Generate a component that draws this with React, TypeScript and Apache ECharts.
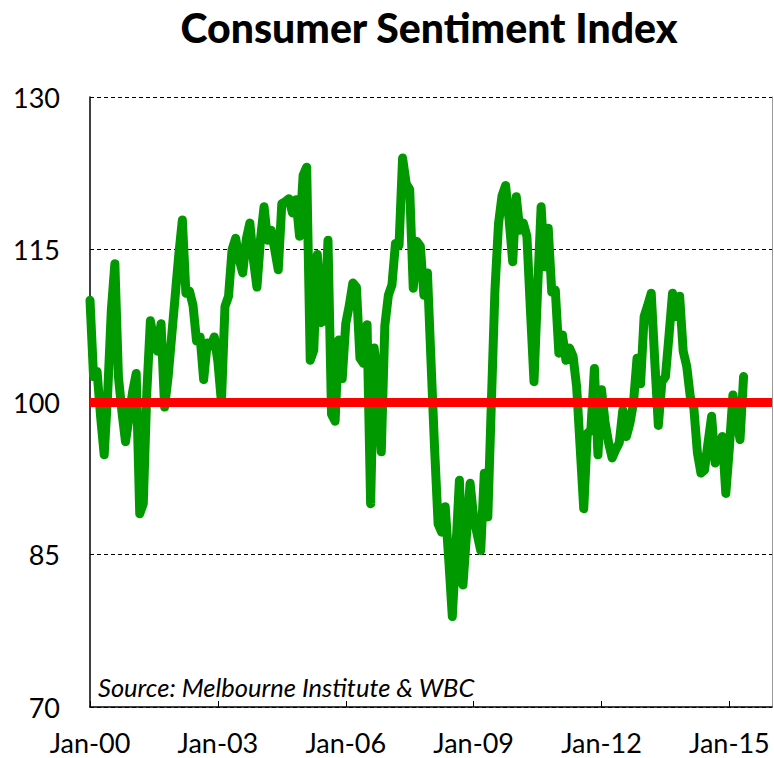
import React, { useEffect, useRef } from "react";
import * as echarts from "echarts";

const TITLE = "Consumer Sentiment Index";
const SOURCE = "Source: Melbourne Institute & WBC";
const START_YEAR = 2000;
const MONTHS = ["Jan", "Feb", "Mar", "Apr", "May", "Jun", "Jul", "Aug", "Sep", "Oct", "Nov", "Dec"];
const MONTH_COUNT = 193; // Jan-00 .. Jan-16 (axis end)
const LABEL_STEP = 36; // a label every three years
const Y_TICKS = [70, 85, 100, 115, 130];
const BENCHMARK = 100;

// Westpac-Melbourne Institute consumer sentiment, monthly from Jan-2000
const sentiment = [
  110, 102.5, 103, 98.5, 94.8, 101, 109, 113.6, 102.5, 99, 96.1, 98.5,
  101, 102.8, 89, 90, 101, 108, 106, 105, 107.7, 99.5, 102.5, 106.5,
  110.5, 114.5, 117.9, 110.7, 110.9, 109.5, 106, 106.4, 102.2, 105.8, 105.5, 106.4,
  104, 100, 109.4, 110.4, 115, 116.1, 114, 112.7, 116, 117.6, 114, 111.3,
  116, 119.2, 115.9, 116.9, 115, 113, 119.5, 119.7, 120, 118.6, 119.9, 116.3,
  122.3, 123.1, 104.1, 105.1, 114.5, 107.8, 108, 115.9, 98.8, 98.1, 106.1, 102.3,
  107.7, 109.5, 111.7, 111.3, 104.3, 103.8, 107.6, 90, 105.3, 102, 95.1, 107.5,
  110.5, 111.5, 115.6, 115.4, 124, 121.5, 120.9, 111.2, 115.8, 115.3, 110.5, 112.7,
  104, 95.5, 88, 87.2, 89.7, 84.5, 78.9, 85.5, 92.3, 82, 87, 92,
  88.7, 87, 85.4, 93, 88.7, 100, 111, 117.5, 120.3, 121.3, 117.9, 113.8,
  120.2, 116.9, 117.6, 116.3, 109, 102, 111, 119.2, 113.3, 117.1, 110.8, 111,
  104.8, 106.6, 104.1, 105.3, 104.5, 101.5, 95.5, 89.5, 96.9, 97.2, 103.3, 94.8,
  101.2, 98, 96, 94.5, 95.3, 96, 99.2, 96.6, 97.9, 99.9, 104.3, 101.8,
  108.4, 109.5, 110.7, 104, 97.7, 102, 102.5, 106.5, 110.7, 108.4, 110.4, 105,
  103.5, 100.5, 99.4, 95, 93, 93.3, 96, 98.6, 94, 95.5, 96.6, 91,
  95.5, 100.7, 98.5, 96.3, 102.5,
];

const categories: string[] = [];
for (let i = 0; i < MONTH_COUNT; i++) {
  const y = START_YEAR + Math.floor(i / 12);
  categories.push(MONTHS[i % 12] + "-" + String(y % 100).padStart(2, "0"));
}

const FONT = "Lato, 'Open Sans', sans-serif";
const showEvery = (i: number) => i % LABEL_STEP === 0 && i < MONTH_COUNT - 1;

export default function App() {
  const ref = useRef<HTMLDivElement>(null);
  useEffect(() => {
    document.body.style.margin = "0";
    document.body.style.overflow = "hidden";
    const chart = echarts.init(ref.current!, null, { renderer: "svg" });
    chart.setOption({
      animation: false,
      backgroundColor: "#ffffff",
      title: {
        text: TITLE,
        left: 424,
        top: 2,
        textAlign: "center",
        textStyle: { fontFamily: FONT, fontWeight: 900, fontSize: 41, color: "#000" },
      },
      grid: { left: 90, right: 2, top: 97, bottom: 51, containLabel: false },
      xAxis: {
        type: "category",
        data: categories,
        boundaryGap: false,
        axisLine: { show: true, lineStyle: { color: "#000", width: 1.5 } },
        axisTick: { show: true, inside: true, length: 6, interval: showEvery, lineStyle: { color: "#000", width: 1 } },
        axisLabel: {
          interval: showEvery,
          hideOverlap: false,
          margin: 22,
          lineHeight: 26,
          fontFamily: FONT,
          fontSize: 27,
          color: "#000",
        },
        splitLine: { show: false },
      },
      yAxis: [
        {
          type: "value",
          min: Y_TICKS[0],
          max: Y_TICKS[Y_TICKS.length - 1],
          interval: 15,
          axisLine: { show: true, lineStyle: { color: "#000", width: 1.5 } },
          axisTick: { show: false },
          axisLabel: { margin: 30, fontFamily: FONT, fontSize: 27, color: "#000" },
          splitLine: { show: true, lineStyle: { color: "#000", width: 1, type: [4, 3] } },
        },
        {
          type: "value",
          position: "right",
          min: Y_TICKS[0],
          max: Y_TICKS[Y_TICKS.length - 1],
          interval: 15,
          axisLine: { show: true, lineStyle: { color: "#999", width: 1 } },
          axisTick: { show: false },
          axisLabel: { show: false },
          splitLine: { show: false },
        },
      ],
      series: [
        {
          type: "line",
          name: "Consumer Sentiment",
          data: sentiment,
          showSymbol: false,
          symbol: "none",
          z: 2,
          lineStyle: { color: "#009900", width: 9, cap: "round", join: "round" },
        },
        {
          type: "line",
          name: "Benchmark",
          data: [],
          z: 5,
          markLine: {
            silent: true,
            symbol: "none",
            label: { show: false },
            lineStyle: { color: "#ff0000", width: 9, type: "solid" },
            data: [{ yAxis: BENCHMARK }],
          },
        },
      ],
      graphic: [
        {
          type: "text",
          left: 98,
          top: 674,
          z: 10,
          style: {
            text: SOURCE,
            fontFamily: FONT,
            fontStyle: "italic",
            fontSize: 25.5,
            fill: "#000",
          },
        },
      ],
    });
    return () => chart.dispose();
  }, []);
  return <div ref={ref} style={{ width: 774, height: 758 }} />;
}
